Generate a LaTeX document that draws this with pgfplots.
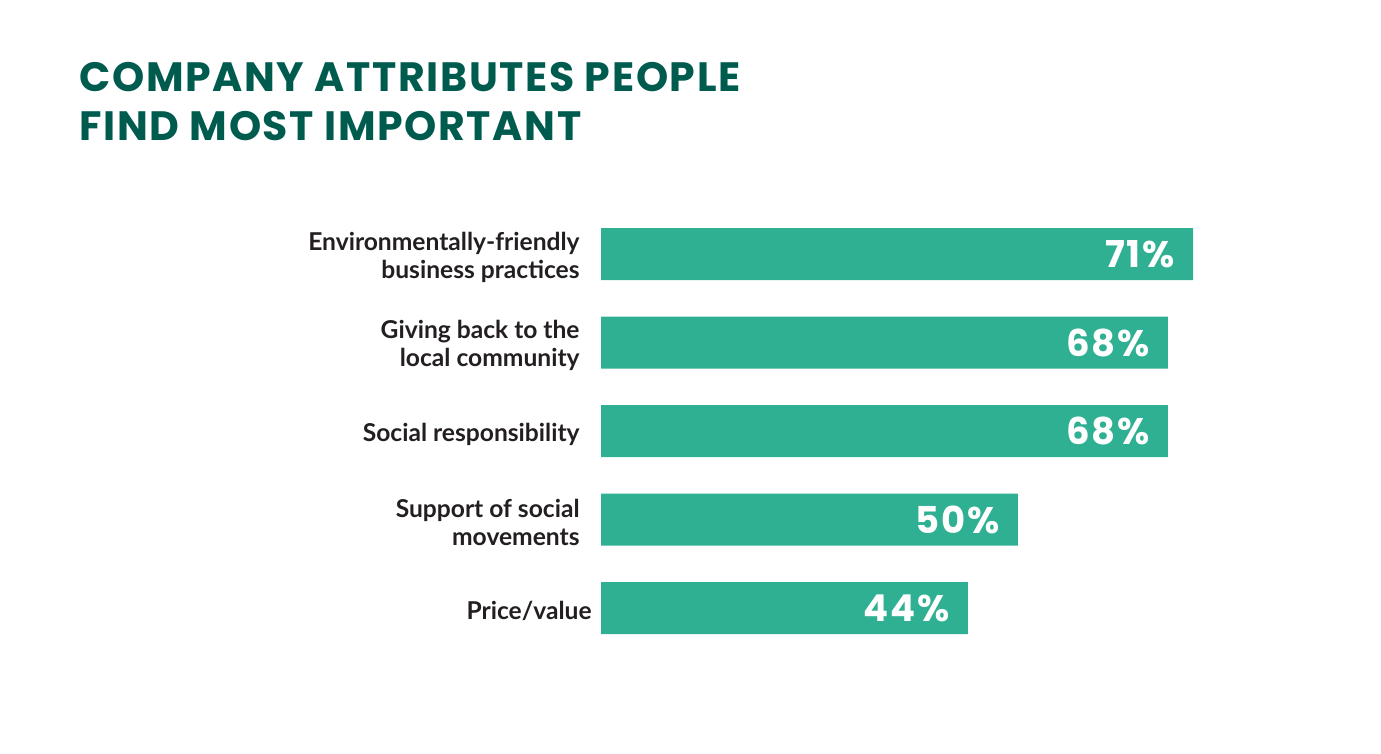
\documentclass[border=0pt]{standalone}
\usepackage{fontspec}
\setmainfont{Lato}
\newfontfamily\titlefontsp{Poppins}[LetterSpace=4]
\newfontfamily\valfont{Poppins}[LetterSpace=5]
\usepackage{pgfplots}
\pgfplotsset{compat=1.18}
\definecolor{barcol}{HTML}{2FB092}
\definecolor{titlecol}{HTML}{005B4F}
\definecolor{labelcol}{HTML}{231F20}
\begin{document}
\begin{tikzpicture}
\useasboundingbox (0,0) rectangle (690.5pt,-377pt);
% title
\node[anchor=base west, inner sep=0pt, text=titlecol, font=\titlefontsp\bfseries\fontsize{20.5}{20.5}\selectfont] at (39.5pt,-46pt) {COMPANY ATTRIBUTES PEOPLE};
\node[anchor=base west, inner sep=0pt, text=titlecol, font=\titlefontsp\bfseries\fontsize{20.5}{20.5}\selectfont] at (39.5pt,-70.5pt) {FIND MOST IMPORTANT};
\begin{axis}[
  at={(300.5pt,-104.875pt)}, anchor=north west,
  scale only axis,
  width=296pt, height=221.25pt,
  xbar, bar width=26pt,
  xmin=0, xmax=71,
  ymin=-0.5, ymax=4.5,
  y dir=reverse,
  axis line style={draw=none},
  major tick length=0pt,
  xtick=\empty,
  ytick={0,1,2,3,4},
  yticklabels={{Environmentally-friendly\\business practices},
               {Giving back to the\\local community},
               {Social responsibility},
               {Support of social\\movements},
               {Price/value\kern-6pt}},
  yticklabel style={align=right, inner xsep=0pt, xshift=-10.5pt, yshift=-1.5pt, text=labelcol,
    font=\bfseries\fontsize{12.3}{14}\selectfont},
  point meta=x,
  /pgf/number format/assume math mode=true,
  nodes near coords={\pgfmathprintnumber{\pgfplotspointmeta}\%},
  nodes near coords style={anchor=east, inner xsep=0pt, xshift=-9pt, text=white,
    font=\valfont\bfseries\fontsize{18.5}{18.5}\selectfont},
]
\addplot[fill=barcol, draw=none] coordinates {
  (71,0) (68,1) (68,2) (50,3) (44,4)
};
\end{axis}
\end{tikzpicture}
\end{document}
